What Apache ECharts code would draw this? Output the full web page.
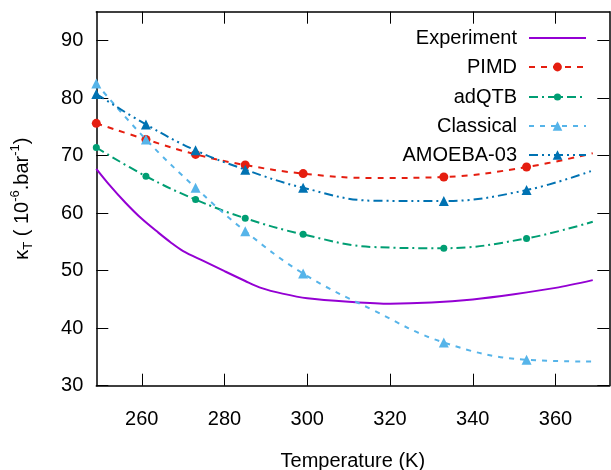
<!DOCTYPE html>
<html>
<head>
<meta charset="utf-8">
<script src="https://cdn.jsdelivr.net/npm/echarts@6/dist/echarts.min.js"></script>
<style>html,body{margin:0;padding:0;background:#fff}#c{width:611px;height:470px}</style>
</head>
<body>
<div id="c"></div>
<script>
// ---- data ----
const xTicks = [260, 280, 300, 320, 340, 360];
const yTicks = [30, 40, 50, 60, 70, 80, 90];

const expT = [249, 252, 256, 260, 264, 267, 270, 275, 280, 285, 289, 294, 300, 310, 320, 330, 340, 350, 360, 369];
const expK = [67.7, 65.05, 61.85, 59.0, 56.6, 54.9, 53.4, 51.65, 49.9, 48.2, 46.95, 46.0, 45.2, 44.6, 44.25, 44.45, 45.0, 45.9, 47.0, 48.35];

const simT = [249, 261, 273, 285, 299, 333, 353];
const pimdK = [75.6, 72.8, 70.2, 68.35, 66.86, 66.27, 68.0];
const adqtbK = [71.4, 66.4, 62.35, 59.1, 56.3, 53.9, 55.6];
const classK = [82.5, 72.8, 64.4, 56.85, 49.5, 37.5, 34.5];
const amoebaK = [80.7, 75.4, 70.9, 67.55, 64.4, 62.1, 64.0];

// fitted-curve points (no marker)
const fitT = [316, 369];
const pimdFit = [66.1, 70.4];
const adqtbFit = [54.1, 58.5];
const classFit = [43.1, 34.2];
const amoebaFit = [62.15, 67.4];

const names = ['Experiment', 'PIMD', 'adQTB', 'Classical', 'AMOEBA-03'];
const colors = ['#9400d3', '#e51e10', '#009e73', '#56b4e9', '#0072b2'];

function build(T, K, fT, fK) {
  const pts = T.map((t, i) => ({ value: [t, K[i]] }));
  fT.forEach((t, i) => pts.push({ value: [t, fK[i]], symbol: 'none' }));
  pts.sort((a, b) => a.value[0] - b.value[0]);
  return pts;
}

const FONT = 'Liberation Sans';
const chart = echarts.init(document.getElementById('c'), null, { renderer: 'canvas' });

const axisLine = { show: true, onZero: false, lineStyle: { color: '#000', width: 1.5 } };
const tickStyle = { color: '#000', width: 1 };

const seriesDefs = [
  { name: names[0], data: expT.map((t, i) => [t, expK[i]]), symbol: 'none', lineType: 'solid', size: 0, smooth: 0.3 },
  { name: names[1], data: build(simT, pimdK, fitT, pimdFit), symbol: 'circle', lineType: [6, 6], size: 9, smooth: 0.4 },
  { name: names[2], data: build(simT, adqtbK, fitT, adqtbFit), symbol: 'circle', lineType: [9, 4, 2, 4], size: 7, smooth: 0.4 },
  { name: names[3], data: build(simT, classK, fitT, classFit), symbol: 'triangle', lineType: [5, 6], size: 10, smooth: 0.4 },
  { name: names[4], data: build(simT, amoebaK, fitT, amoebaFit), symbol: 'triangle', lineType: [9, 4, 2, 4, 2, 4], size: 10, smooth: 0.4 }
];

const legendCenters = [38, 67, 97, 126, 155];
const legendH = [14, 11, 9, 12, 12];

chart.setOption({
  animation: false,
  backgroundColor: '#fff',
  textStyle: { fontFamily: FONT },
  grid: { left: 96.3, right: 1.7, top: 11.7, bottom: 84.3, containLabel: false, outerBoundsMode: 'none' },
  legend: seriesDefs.map((s, i) => ({
    data: [i === 0 ? { name: s.name, itemStyle: { opacity: 0 } } : s.name],
    orient: 'vertical',
    align: 'right',
    right: 24,
    top: legendCenters[i] - 11,
    padding: 0,
    itemWidth: 57,
    itemHeight: legendH[i],
    selectedMode: false,
    textStyle: { fontFamily: FONT, fontSize: 20, color: '#000', padding: [0, 7, 0, 0], lineHeight: 22 }
  })),
  xAxis: [
    {
      type: 'value', min: 249, max: 373, position: 'bottom',
      name: 'Temperature (K)', nameLocation: 'middle', nameGap: 66,
      nameTextStyle: { fontFamily: FONT, fontSize: 20, color: '#000' },
      axisLine: axisLine,
      axisTick: { show: true, inside: true, length: 12, lineStyle: tickStyle, customValues: xTicks },
      axisLabel: { show: true, margin: 24, fontFamily: FONT, fontSize: 20, color: '#000', customValues: xTicks },
      splitLine: { show: false }
    },
    {
      type: 'value', min: 249, max: 373, position: 'top',
      axisLine: axisLine,
      axisTick: { show: true, inside: true, length: 12, lineStyle: tickStyle, customValues: xTicks },
      axisLabel: { show: false },
      splitLine: { show: false }
    }
  ],
  yAxis: [
    {
      type: 'value', min: 30, max: 95, position: 'left',
      name: '{n|κ}{sub|T}{n| ( 10}{sup|-6}{n|.bar}{sup|-1}{n|)}',
      nameLocation: 'middle', nameGap: 61, nameRotate: 90,
      nameTextStyle: {
        fontFamily: FONT, fontSize: 20, color: '#000',
        rich: {
          n: { fontFamily: FONT, fontSize: 20, color: '#000', lineHeight: 26, verticalAlign: 'middle' },
          sup: { fontFamily: FONT, fontSize: 13, color: '#000', lineHeight: 13, verticalAlign: 'top' },
          sub: { fontFamily: FONT, fontSize: 13, color: '#000', lineHeight: 13, verticalAlign: 'bottom' }
        }
      },
      axisLine: axisLine,
      axisTick: { show: true, inside: true, length: 12, lineStyle: tickStyle, customValues: yTicks },
      axisLabel: { show: true, margin: 13, fontFamily: FONT, fontSize: 20, color: '#000', customValues: yTicks },
      splitLine: { show: false }
    },
    {
      type: 'value', min: 30, max: 95, position: 'right',
      axisLine: axisLine,
      axisTick: { show: true, inside: true, length: 12, lineStyle: tickStyle, customValues: yTicks },
      axisLabel: { show: false },
      splitLine: { show: false }
    }
  ],
  series: seriesDefs.map((s, i) => ({
    name: s.name,
    type: 'line',
    xAxisIndex: 0, yAxisIndex: 0,
    data: s.data,
    symbol: s.symbol,
    symbolSize: s.size,
    showSymbol: s.symbol !== 'none',
    smooth: s.smooth,
    color: colors[i],
    lineStyle: { color: colors[i], width: 2, type: s.lineType },
    itemStyle: { color: colors[i], borderWidth: 0 },
    emphasis: { disabled: true },
    z: 2 + i
  }))
});
</script>
</body>
</html>
